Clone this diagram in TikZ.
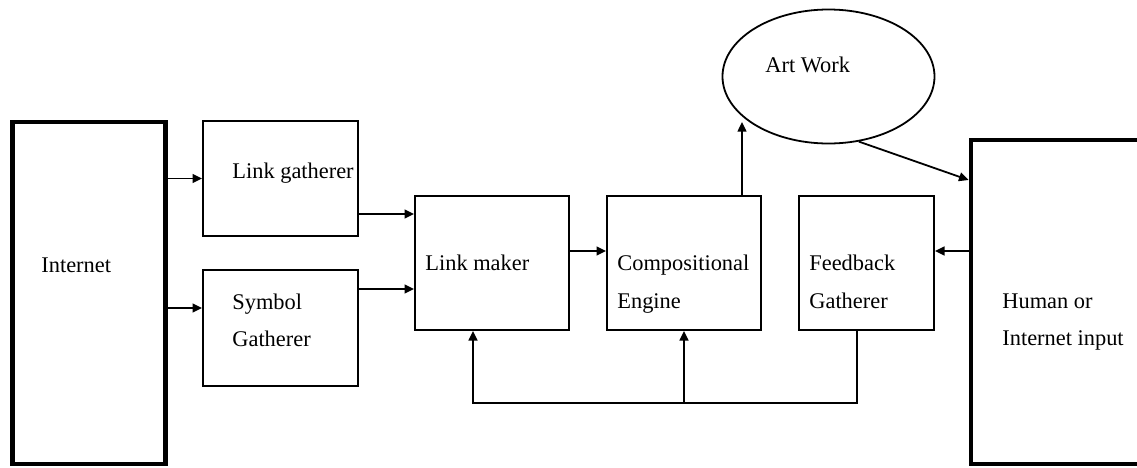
\documentclass[tikz,border=0pt]{standalone}
\usepackage{fontspec}
\setmainfont{Liberation Serif}
\usetikzlibrary{arrows.meta,shapes.geometric}

\tikzset{
  blockbox/.style={draw,line width=0.9pt,inner sep=0pt},
  endbox/.style={draw,line width=2.4pt,inner sep=0pt},
  lbl/.style={anchor=base west,inner sep=0pt,font=\fontsize{11.2}{13}\selectfont},
  arr/.style={line width=0.9pt,-{Triangle[length=4.8pt,width=4.4pt]}},
}

\begin{document}
\begin{tikzpicture}[x=0.5pt,y=0.5pt,yscale=-1]
\path[use as bounding box,clip] (0,0) rectangle (1137,467);

%Shape: end boxes
\node[endbox,minimum width=76.5pt,minimum height=171pt] (inet) at (89,293) {};
\node[endbox,minimum width=94.5pt,minimum height=162pt] (hum) at (1065.5,302) {};

%Shape: blocks
\node[blockbox,minimum width=77.5pt,minimum height=57.5pt] (lg) at (280.5,178.5) {};
\node[blockbox,minimum width=77.5pt,minimum height=58pt] (sg) at (280.5,328) {};
\node[blockbox,minimum width=77pt,minimum height=67pt] (lm) at (492,263) {};
\node[blockbox,minimum width=77pt,minimum height=67pt] (cp) at (684,263) {};
\node[blockbox,minimum width=67.5pt,minimum height=67pt] (fb) at (866.5,263) {};

%Shape: Ellipse
\node[draw,ellipse,line width=0.9pt,inner sep=0pt,minimum width=106pt,minimum height=67pt] (aw) at (828.5,76.5) {};

% Text Node
\node[lbl] (tinet) at (41,272) {Internet};
\node[lbl] (tlg) at (232,178) {Link gatherer};
\node[lbl] (tsg1) at (232,309) {Symbol};
\node[lbl] (tsg2) at (232,346) {Gatherer};
\node[lbl] (tlm) at (425,270) {Link maker};
\node[lbl] (tcp1) at (617,270) {Compositional};
\node[lbl] (tcp2) at (617,308) {Engine};
\node[lbl] (taw) at (765,72) {Art Work};
\node[lbl] (tfb1) at (809,270) {Feedback};
\node[lbl] (tfb2) at (809,308) {Gatherer};
\node[lbl] (thum1) at (1002,308) {Human or};
\node[lbl] (thum2) at (1002,345) {Internet input};

\coordinate (awfoot) at (742,122);
\coordinate (fbturn) at (857,403);
\coordinate (lmturn) at (473,403);

%Straight Lines
\draw[arr] (inet.east |- lg.west) -- (lg.west);
\draw[arr] (inet.east |- 0,308) -- (sg.west |- 0,308);
\draw[arr] (lg.east |- 0,214) -- (lm.west |- 0,214);
\draw[arr] (sg.east |- 0,289) -- (lm.west |- 0,289);
\draw[arr] (lm.east |- 0,251) -- (cp.west |- 0,251);
\draw[arr] (cp.north -| awfoot) -- (awfoot);
\draw[arr] (aw.-65) -- (hum.west |- 0,180);
\draw[arr] (hum.west |- 0,251) -- (fb.east |- 0,251);

%Feedback loop
\draw[arr] (fb.south -| fbturn) -- (fbturn) -- (lmturn) -- (lm.south -| lmturn);
\draw[arr] (cp.south |- fbturn) -- (cp.south);

\end{tikzpicture}
\end{document}
